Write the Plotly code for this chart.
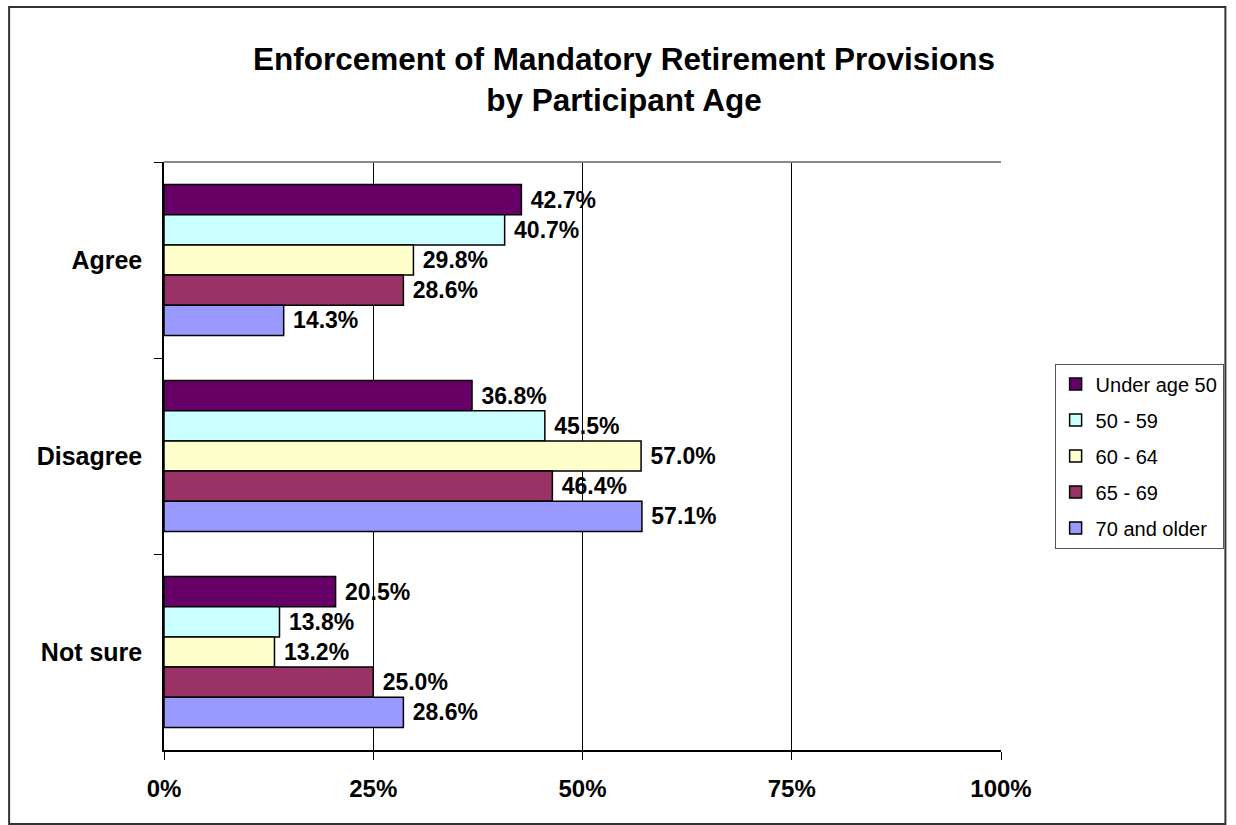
import plotly.graph_objects as go

# Survey responses by participant age group (percent of respondents)
categories = ["Agree", "Disagree", "Not sure"]
age_groups = ["Under age 50", "50 - 59", "60 - 64", "65 - 69", "70 and older"]
under_50 = [42.7, 36.8, 20.5]
age_50_59 = [40.7, 45.5, 13.8]
age_60_64 = [29.8, 57.0, 13.2]
age_65_69 = [28.6, 46.4, 25.0]
age_70_plus = [14.3, 57.1, 28.6]
x_ticks = [0, 25, 50, 75, 100]
x_tick_labels = ["0%", "25%", "50%", "75%", "100%"]

series = [under_50, age_50_59, age_60_64, age_65_69, age_70_plus]
colors = ["#660066", "#CCFFFF", "#FFFFCC", "#993366", "#9999FF"]

FONT = "Liberation Sans, Arial, sans-serif"

fig = go.Figure()
for name, vals, col in zip(age_groups, series, colors):
    fig.add_trace(go.Bar(
        name=name,
        y=categories,
        x=vals,
        orientation="h",
        marker=dict(color=col, line=dict(color="black", width=1.5)),
        text=vals,
        texttemplate=" %{x:.1f}%",
        textposition="outside",
        textfont=dict(family=FONT, size=23, color="black", weight="bold"),
        constraintext="none",
        cliponaxis=False,
        legendgroup=name,
    ))

W, H = 1236, 825
L, R, T, B = 164, 1007, 162, 750
pw, ph = R - L, B - T

def px_x(v):
    return (v - L) / pw

def px_y(v):
    return (B - v) / ph

fig.update_layout(
    width=W, height=H,
    margin=dict(l=L, r=W - R, t=T, b=H - B),
    paper_bgcolor="white",
    plot_bgcolor="white",
    barmode="group",
    bargap=0.23,
    bargroupgap=0,
    font=dict(family=FONT, color="black"),
    title=dict(
        text="Enforcement of Mandatory Retirement Provisions<br>by Participant Age",
        font=dict(family=FONT, size=31.5, color="black", weight="bold"),
        x=624 / W, xref="container", xanchor="center",
        y=1 - 70 / H, yref="container", yanchor="middle",
    ),
    legend=dict(
        x=px_x(1061), xanchor="left",
        y=0.5, yanchor="middle",
        font=dict(family=FONT, size=20, color="black"),
        bordercolor="#555555", borderwidth=1,
        bgcolor="white",
        tracegroupgap=7,
        traceorder="grouped",
    ),
    showlegend=True,
)

fig.update_xaxes(
    range=[0, 100],
    tickvals=x_ticks,
    ticktext=x_tick_labels,
    showgrid=True, gridcolor="black", gridwidth=1,
    zeroline=False,
    showline=True, linecolor="black", linewidth=1.5,
    ticks="outside", ticklen=8, tickcolor="black", tickwidth=1,
    tickfont=dict(family=FONT, size=24, color="black", weight="bold"),
    ticklabelstandoff=8,
    fixedrange=True,
)
fig.update_yaxes(
    autorange="reversed",
    type="category",
    showgrid=False,
    showline=True, linecolor="black", linewidth=1.5,
    ticks="outside", ticklen=8, tickcolor="black", tickwidth=1,
    tickson="boundaries",
    tickfont=dict(family=FONT, size=25, color="black", weight="bold"),
    ticklabelstandoff=15,
    fixedrange=True,
)

# Gray top edge of the plot area
fig.add_shape(type="line", xref="paper", yref="paper",
              x0=0, x1=1, y0=1, y1=1,
              line=dict(color="#888888", width=2))
# Outer chart border
fig.add_shape(type="rect", xref="paper", yref="paper",
              x0=px_x(8), x1=px_x(1233), y0=px_y(824), y1=px_y(7),
              line=dict(color="#333333", width=2), layer="above")

fig.write_html("out.html")
